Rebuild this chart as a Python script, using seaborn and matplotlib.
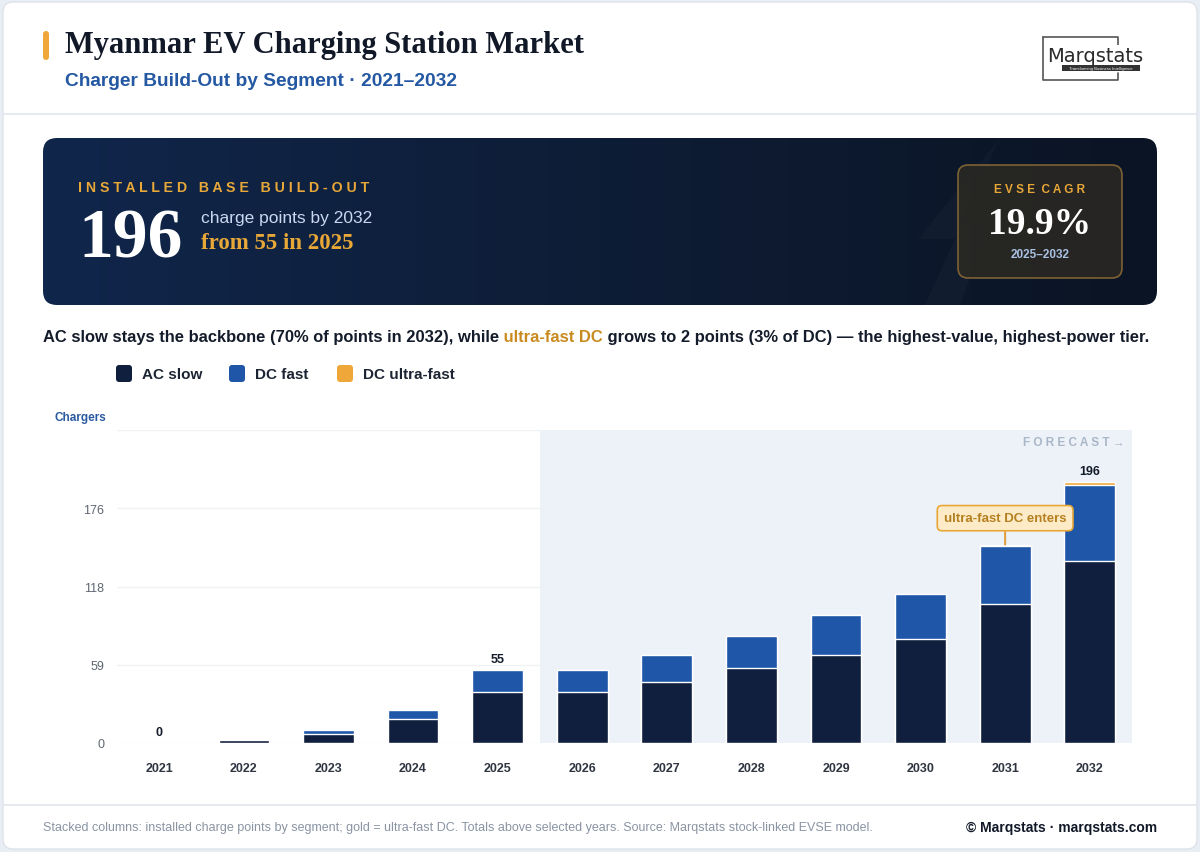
import numpy as np
import pandas as pd
import seaborn as sns
import matplotlib.pyplot as plt
from matplotlib.patches import FancyBboxPatch, Rectangle, Polygon
from matplotlib.colors import LinearSegmentedColormap

# ---- data ----
years = ["2021", "2022", "2023", "2024", "2025", "2026",
         "2027", "2028", "2029", "2030", "2031", "2032"]
ac_slow = [0, 2, 7, 18, 38, 38, 46, 56, 66, 78, 104, 137]
dc_fast = [0, 0, 3, 7, 17, 17, 20, 24, 30, 34, 44, 57]
dc_ultra = [0, 0, 0, 0, 0, 0, 0, 0, 0, 0, 1, 2]
labelled_years = ["2021", "2025", "2032"]
y_ticks = [0, 58.75, 117.5, 176.25, 235]
y_tick_labels = ["0", "59", "118", "176", ""]

NAVY = "#0f1f3d"
BLUE = "#1f56a8"
GOLD = "#f0a73a"
INK = "#141c2b"

W, H = 1200, 853

sns.set_theme(style="white")
plt.rcParams["font.family"] = ["Liberation Sans", "DejaVu Sans"]

fig = plt.figure(figsize=(W / 100, H / 100), dpi=100)
fig.patch.set_facecolor("#e9eef4")


def fx(x):
    return x / W


def fy(y):
    return 1 - y / H


def card(x0, y0, x1, y1, r, zorder=1, **kw):
    p = FancyBboxPatch((x0 / W, 1 - y1 / H), (x1 - x0) / W, (y1 - y0) / H,
                       boxstyle=f"round,pad=0,rounding_size={r / W}",
                       mutation_aspect=W / H, transform=fig.transFigure, zorder=zorder, **kw)
    fig.patches.append(p)
    return p


# page card + separators
card(3, 3, 1197, 850, 10, zorder=-5, facecolor="white", edgecolor="#dde3ea", linewidth=1)
fig.add_artist(plt.Line2D([fx(3), fx(1197)], [fy(115), fy(115)], color="#e1e6ed", lw=1.2))
fig.add_artist(plt.Line2D([fx(3), fx(1197)], [fy(806), fy(806)], color="#e1e6ed", lw=1.2))

# header
card(43, 32, 49, 61, 3, facecolor=GOLD, edgecolor="none")
fig.text(fx(65), fy(45), "Myanmar EV Charging Station Market", fontsize=22,
         fontweight="bold", family=["Liberation Serif", "DejaVu Serif"], color="#111827", va="center")
fig.text(fx(65), fy(82), "Charger Build-Out by Segment · 2021–2032", fontsize=13.8,
         fontweight="bold", color="#2458a2", va="center")

# logo
fig.add_artist(plt.Line2D([fx(1043), fx(1118), fx(1118)], [fy(38), fy(38), fy(46)], color="#555", lw=1.2))
fig.add_artist(plt.Line2D([fx(1043), fx(1043), fx(1118), fx(1118)],
                          [fy(38), fy(81), fy(81), fy(74)], color="#555", lw=1.2))
fig.text(fx(1047), fy(56), "Marqstats", fontsize=14, color="#2a2a2a", va="center",
         family=["DejaVu Sans"], bbox=dict(facecolor="white", edgecolor="none", pad=0.3))
fig.patches.append(Rectangle((fx(1062), fy(72)), (1140 - 1062) / W, 6 / H,
                             transform=fig.transFigure, facecolor="#333", edgecolor="none", zorder=3))
fig.text(fx(1101), fy(69), "Transforming Business Intelligence", fontsize=3, color="white",
         ha="center", va="center", zorder=4)

# KPI banner
banner = card(43, 139, 1157, 306, 14, facecolor="none", edgecolor="none")
ax_b = fig.add_axes([fx(43), fy(306), (1157 - 43) / W, (306 - 139) / H])
ax_b.axis("off")
grad = np.linspace(0, 1, 256).reshape(1, -1)
cmap_b = LinearSegmentedColormap.from_list("b", ["#10264b", "#0e1d36", "#0b1424"])
im = ax_b.imshow(grad, aspect="auto", extent=[0, 1, 0, 1], cmap=cmap_b)
im.set_clip_path(banner)
bolt = Polygon([(fx(1000), fy(139)), (fx(918), fy(240)), (fx(955), fy(240)),
                (fx(925), fy(306)), (fx(960), fy(306)), (fx(990), fy(225)), (fx(960), fy(225))],
               closed=True, transform=fig.transFigure, facecolor="white", alpha=0.025,
               edgecolor="none")
bolt.set_clip_path(banner)
fig.patches.append(bolt)

fig.text(fx(78), fy(188), "   ".join(" ".join(w) for w in "INSTALLED BASE BUILD-OUT".split()),
         fontsize=10.2, fontweight="bold", color="#e8a838", va="center")
fig.text(fx(78), fy(241), "196", fontsize=50, fontweight="bold",
         family=["Liberation Serif", "DejaVu Serif"], color="white", va="center")
fig.text(fx(201), fy(218), "charge points by 2032", fontsize=12.5, color="#c9d8f0", va="center")
fig.text(fx(201), fy(244), "from 55 in 2025", fontsize=16.5, fontweight="bold",
         family=["Liberation Serif", "DejaVu Serif"], color="#e8a838", va="center")

card(958, 166, 1122, 279, 10, facecolor="#2b2923", edgecolor="#8f6d36", linewidth=1.2, alpha=0.85)
fig.text(fx(1040), fy(190), " ".join("EVSE") + "  " + " ".join("CAGR"), fontsize=8.5,
         fontweight="bold", color="#e8a838", ha="center", va="center")
fig.text(fx(1040), fy(225), "19.9%", fontsize=27, fontweight="bold",
         family=["Liberation Serif", "DejaVu Serif"], color="white", ha="center", va="center")
fig.text(fx(1040), fy(255), "2025–2032", fontsize=8.5, fontweight="bold", color="#a9c1e3",
         ha="center", va="center")

# insight sentence with gold highlight
renderer = fig.canvas.get_renderer()
x = fx(43)
for s, c in [("AC slow stays the backbone (70% of points in 2032), while", INK),
             (" ultra-fast DC", "#c98a1f"),
             (" grows to 2 points (3% of DC) — the highest-value, highest-power tier.", INK)]:
    t = fig.text(x, fy(342), s, fontsize=11.9, fontweight="bold", color=c, va="baseline")
    x += t.get_window_extent(renderer).width / W

# legend
for lx, name, col in [(116, "AC slow", NAVY), (229, "DC fast", BLUE), (337, "DC ultra-fast", GOLD)]:
    card(lx, 366, lx + 16, 383, 3, facecolor=col, edgecolor="none")
    fig.text(fx(lx + 26), fy(375), name, fontsize=11, fontweight="semibold", color="#1c2433",
             va="center")

# ---- chart ----
df = pd.DataFrame({"year": years, "ac": ac_slow, "dc": dc_fast, "uf": dc_ultra})
df["ac_dc"] = df["ac"] + df["dc"]
df["total"] = df["ac_dc"] + df["uf"]

ax = fig.add_axes([fx(117), fy(744), (1132 - 117) / W, (744 - 431) / H])
ax.set_facecolor("white")
ax.axvspan(4.5, 11.5, color="#edf2f9", zorder=1, lw=0)
sns.barplot(data=df, x="year", y="total", color=GOLD, width=0.6, saturation=1, ax=ax, zorder=2)
sns.barplot(data=df, x="year", y="ac_dc", color=BLUE, width=0.6, saturation=1, ax=ax, zorder=3)
sns.barplot(data=df, x="year", y="ac", color=NAVY, width=0.6, saturation=1, ax=ax, zorder=4)

ax.set_xlim(-0.5, 11.5)
ax.set_ylim(0, 235)
ax.set_yticks(y_ticks)
ax.set_yticklabels(y_tick_labels)
ax.set_xlabel("")
ax.set_ylabel("")
ax.grid(axis="y", color="#f0f2f5", lw=1)
ax.set_axisbelow(True)
sns.despine(ax=ax, left=True, bottom=True)
ax.tick_params(axis="y", length=0, pad=9, labelsize=9, labelcolor="#5f6670")
ax.tick_params(axis="x", length=0, pad=14, labelsize=9)
for lab in ax.get_xticklabels():
    lab.set_fontweight("bold")
    lab.set_color("#2f3540")

fig.text(fx(55), fy(418), "Chargers", fontsize=8.5, fontweight="bold", color="#2a5aa0", va="center")
ax.text(0.993, 0.962, " ".join("FORECAST") + " →", transform=ax.transAxes, ha="right",
        va="center", fontsize=8.5, fontweight="bold", color="#a9b6c7", zorder=5)

for i, yr in enumerate(years):
    if yr in labelled_years:
        tot = df["total"][i]
        ax.annotate(f"{tot}", xy=(i, tot), xytext=(0, 3.5), textcoords="offset points",
                    ha="center", va="bottom", fontsize=9, fontweight="bold", color=INK, zorder=6)

i31 = years.index("2031")
ax.annotate("ultra-fast DC enters", xy=(i31, df["total"][i31]), xytext=(0, 19),
            textcoords="offset points", ha="center", va="center", fontsize=9.5,
            fontweight="semibold", color="#b5801f", zorder=7,
            bbox=dict(boxstyle="round,pad=0.5,rounding_size=0.35", facecolor="#fdebc8",
                      edgecolor="#e8a838", lw=1.2),
            arrowprops=dict(arrowstyle="-", color="#e0a040", lw=1.5, shrinkA=0, shrinkB=0))

# footer
fig.text(fx(43), fy(828), "Stacked columns: installed charge points by segment; gold = ultra-fast DC. "
         "Totals above selected years. Source: Marqstats stock-linked EVSE model.",
         fontsize=9, color="#8a94a3", va="center",
         family=["Liberation Sans Narrow", "Liberation Sans"])
fig.text(fx(1157), fy(828), "© Marqstats · marqstats.com", fontsize=10, fontweight="bold",
         color="#111827", ha="right", va="center")

fig.savefig("out.png", dpi=100, facecolor=fig.get_facecolor())
